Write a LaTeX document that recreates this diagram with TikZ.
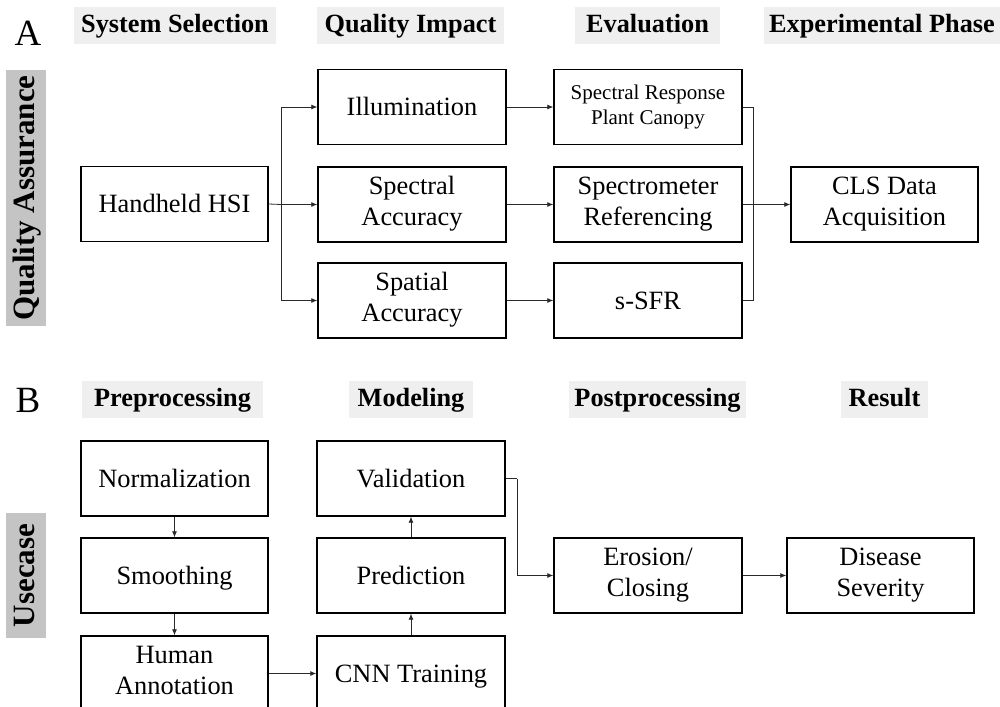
\documentclass[tikz,border=0pt]{standalone}
\usepackage{fontspec}
\setmainfont{Liberation Serif}
\usetikzlibrary{arrows.meta}
\definecolor{headbg}{HTML}{EFEFEF}
\definecolor{sidebg}{HTML}{C4C4C4}
\definecolor{linkcol}{HTML}{2A2A2A}
% line strut: full baselineskip, sitting slightly low
\newcommand{\boxstrut}{\rule[-0.21\baselineskip]{0pt}{\baselineskip}}
\tikzset{
  box/.style={draw=black, line width=1.4pt, fill=white, minimum width=188pt,
    minimum height=75pt, inner sep=2pt, align=center,
    font=\fontsize{26.4}{31}\selectfont,
    execute at begin node=\boxstrut, execute at end node=\boxstrut},
  smallbox/.style={box, font=\fontsize{21}{25}\selectfont},
  header/.style={fill=headbg, minimum height=37pt, inner sep=0pt,
    text height=20pt, text depth=5pt,
    font=\fontsize{26.3}{30}\selectfont\bfseries},
  sidelabel/.style={fill=sidebg, minimum height=40pt, inner sep=0pt, rotate=90,
    text height=22pt, text depth=6pt,
    font=\fontsize{31}{36}\selectfont\bfseries},
  panel/.style={font=\fontsize{37}{42}\selectfont, inner sep=0pt},
  conn/.style={draw=linkcol, line width=0.8pt, -{Latex[length=6pt,width=5pt]}},
  link/.style={draw=linkcol, line width=0.8pt}
}
\begin{document}
\begin{tikzpicture}[x=1pt, y=-1pt]
\fill[white] (0,0) rectangle (1000,706);
\useasboundingbox (0,0) rectangle (1000,706);
\clip (0,0) rectangle (1000,706);

% ---- Panel A: quality assurance ----
\node[panel] (labA) at (28,33) {A};
\node[header, minimum width=202pt] (hsys) at (175,25.5) {System Selection};
\node[header, minimum width=187pt] (himp) at (410.5,25.5) {Quality Impact};
\node[header, minimum width=145pt] (heval) at (647.5,25.5) {Evaluation};
\node[header, minimum width=236pt] (hexp) at (882,25.5) {Experimental Phase};
\node[sidelabel, minimum width=256pt] (sideA) at (26,198) {Quality Assurance};

\node[box, minimum width=187pt] (hsi) at (174.5,204) {Handheld HSI};
\node[box] (illum) at (412,107) {Illumination};
\node[box] (specacc) at (412,204.5) {Spectral\\Accuracy};
\node[box] (spatacc) at (412,300.5) {Spatial\\Accuracy};
\node[smallbox] (srpc) at (648,107) {Spectral Response\\Plant Canopy};
\node[box] (spectro) at (648,204.5) {Spectrometer\\Referencing};
\node[box] (ssfr) at (648,300.5) {s-SFR};
\node[box, minimum width=187pt] (cls) at (884.5,204.5) {CLS Data\\Acquisition};

\coordinate (split) at (281,204.5);
\coordinate (merge) at (753,204.5);
\draw[link] (hsi.east) -- (split);
\draw[conn] (split) |- (illum);
\draw[conn] (split) -- (specacc);
\draw[conn] (split) |- (spatacc);
\draw[conn] (illum) -- (srpc);
\draw[conn] (specacc) -- (spectro);
\draw[conn] (spatacc) -- (ssfr);
\draw[link] (srpc.east) -| (merge);
\draw[link] (ssfr.east) -| (merge);
\draw[conn] (spectro) -- (cls);

% ---- Panel B: use case ----
\node[panel] (labB) at (28,400) {B};
\node[header, minimum width=181pt] (hpre) at (172.5,399) {Preprocessing};
\node[header, minimum width=124pt] (hmod) at (411,399) {Modeling};
\node[header, minimum width=177pt] (hpost) at (657.5,399) {Postprocessing};
\node[header, minimum width=87pt] (hres) at (884.5,399) {Result};
\node[sidelabel, minimum width=125pt] (sideB) at (26,575.5) {Usecase};

\node[box, minimum width=187pt] (norm) at (174.5,478.5) {Normalization};
\node[box, minimum width=187pt] (smooth) at (174.5,575.5) {Smoothing};
\node[box, minimum width=187pt] (human) at (174.5,673.5) {Human\\Annotation};
\node[box] (valid) at (411,478.5) {Validation};
\node[box] (pred) at (411,575.5) {Prediction};
\node[box] (cnn) at (411,673.5) {CNN Training};
\node[box] (eros) at (648,575.5) {Erosion/\\Closing};
\node[box, minimum width=187pt] (sev) at (880.5,575.5) {Disease\\Severity};

\coordinate (bend) at (517,478.5);
\draw[conn] (norm) -- (smooth);
\draw[conn] (smooth) -- (human);
\draw[conn] (human) -- (cnn);
\draw[conn] (cnn) -- (pred);
\draw[conn] (pred) -- (valid);
\draw[link] (valid.east) -- (bend);
\draw[conn] (bend) |- (eros);
\draw[conn] (eros) -- (sev);
\end{tikzpicture}
\end{document}
